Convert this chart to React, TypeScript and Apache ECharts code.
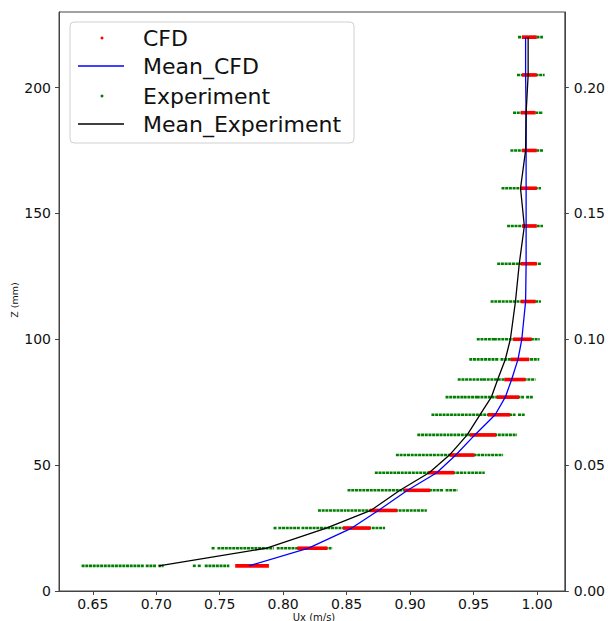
import React, { useEffect, useRef } from "react";
import * as echarts from "echarts";

// Heights (mm) of the measurement levels
const levels = [10, 17, 25, 32, 40, 47, 54, 62, 70, 77, 84, 92, 100, 115, 130, 145, 160, 175, 190, 205, 220];
// Mean CFD velocity (m/s) per level
const meanCFD = [0.773, 0.82, 0.854, 0.875, 0.898, 0.921, 0.936, 0.951, 0.967, 0.975, 0.98, 0.985, 0.988, 0.991, 0.9914, 0.9914, 0.9914, 0.9914, 0.9914, 0.991, 0.991];
// Mean experimental velocity (m/s) per level
const meanExp = [0.702, 0.787, 0.834, 0.869, 0.892, 0.915, 0.931, 0.945, 0.955, 0.964, 0.969, 0.975, 0.979, 0.983, 0.986, 0.99, 0.987, 0.991, 0.9914, 0.993, 0.993];
// Spread of CFD samples per level (min / max)
const cfdMin = [0.763, 0.812, 0.848, 0.869, 0.896, 0.915, 0.932, 0.948, 0.962, 0.969, 0.975, 0.98, 0.982, 0.988, 0.988, 0.989, 0.988, 0.989, 0.988, 0.989, 0.989];
const cfdMax = [0.788, 0.834, 0.868, 0.889, 0.915, 0.934, 0.95, 0.967, 0.978, 0.985, 0.99, 0.993, 0.995, 0.998, 0.999, 0.999, 0.999, 0.999, 0.998, 0.999, 0.999];
// Experimental sample runs: [level (mm), from (m/s), to (m/s)]
const expSegments: [number, number, number][] = [
  [10, 0.642, 0.6895], [10, 0.6925, 0.699], [10, 0.7025, 0.705], [10, 0.7296, 0.7305], [10, 0.7335, 0.7345], [10, 0.739, 0.7568],
  [17, 0.7444, 0.7452], [17, 0.749, 0.7918], [17, 0.7957, 0.838],
  [25, 0.7932, 0.794], [25, 0.797, 0.8126], [25, 0.8152, 0.8795],
  [32, 0.8282, 0.8489], [32, 0.8509, 0.9124],
  [40, 0.8515, 0.9254], [40, 0.9287, 0.9365],
  [47, 0.873, 0.9435], [47, 0.946, 0.958],
  [54, 0.8896, 0.9596], [54, 0.9617, 0.9725],
  [62, 0.9065, 0.93], [62, 0.932, 0.9835],
  [70, 0.9176, 0.9823], [70, 0.9858, 0.99],
  [77, 0.9287, 0.9417], [77, 0.943, 0.952], [77, 0.9533, 0.9889], [77, 0.9922, 0.9959],
  [84, 0.9383, 0.9565], [84, 0.9582, 0.998],
  [92, 0.9474, 0.9694], [92, 0.972, 1.001],
  [100, 0.9533, 0.9655], [100, 0.9668, 1.0013],
  [115, 0.9642, 1.0023],
  [130, 0.9694, 1.0026],
  [145, 0.9772, 1.0039],
  [160, 0.9728, 1.0023],
  [175, 0.9798, 1.0044],
  [190, 0.9819, 1.0039],
  [205, 0.985, 1.0052],
  [220, 0.9858, 1.0039],
];
const xTicks = [0.65, 0.7, 0.75, 0.8, 0.85, 0.9, 0.95, 1.0];
const yTicks = [0, 50, 100, 150, 200];
const yTicksRight = [0, 0.05, 0.1, 0.15, 0.2];
const legendNames = ["CFD", "Mean_CFD", "Experiment", "Mean_Experiment"];

const FONT = "DejaVu Sans";

export default function App() {
  const ref = useRef<HTMLDivElement>(null);
  useEffect(() => {
    document.body.style.margin = "0";
    if (!ref.current) return;
    const chart = echarts.init(ref.current, undefined, { renderer: "svg" });

    const segRender = (color: string, width: number, dash?: number[]) => (params: any, api: any) => {
      const p1 = api.coord([api.value(0), api.value(2)]);
      const p2 = api.coord([api.value(1), api.value(2)]);
      return {
        type: "line",
        shape: { x1: p1[0] - 1, y1: p1[1], x2: p2[0] + 1, y2: p2[1] },
        style: { stroke: color, lineWidth: width, lineCap: "butt", lineDash: dash },
      };
    };

    const cfdData = levels.map((z, i) => [cfdMin[i], cfdMax[i], z]);
    const expData = expSegments.map(([z, a, b]) => [a, b, z]);

    const legendY = [38, 66, 96, 124];
    const legendGraphics: any[] = [
      {
        type: "rect",
        shape: { x: 70, y: 22, width: 284, height: 121, r: 4 },
        style: { fill: "rgba(255,255,255,0.85)", stroke: "#d0d0d0", lineWidth: 1 },
        z: 100,
      },
      { type: "circle", shape: { cx: 102, cy: legendY[0], r: 1.5 }, style: { fill: "#ff0000" }, z: 101 },
      { type: "line", shape: { x1: 78, y1: legendY[1], x2: 124, y2: legendY[1] }, style: { stroke: "#0000ff", lineWidth: 1.3 }, z: 101 },
      { type: "circle", shape: { cx: 102, cy: legendY[2], r: 1.5 }, style: { fill: "#008000" }, z: 101 },
      { type: "line", shape: { x1: 78, y1: legendY[3], x2: 124, y2: legendY[3] }, style: { stroke: "#000000", lineWidth: 1.3 }, z: 101 },
      ...legendNames.map((n, i) => ({
        type: "text",
        x: 143,
        y: legendY[i],
        style: { text: n, fontSize: 22, fontFamily: FONT, fill: "#111", verticalAlign: "middle", align: "left" },
        z: 101,
      })),
      {
        type: "text",
        x: 314,
        y: 617,
        style: { text: "Ux (m/s)", fontSize: 10, fontFamily: FONT, fill: "#111", align: "center", verticalAlign: "middle" },
      },
      {
        type: "text",
        x: 14,
        y: 300,
        rotation: Math.PI / 2,
        style: { text: "Z (mm)", fontSize: 9.5, fontFamily: FONT, fill: "#111", align: "center", verticalAlign: "middle" },
      },
    ];

    chart.setOption({
      animation: false,
      backgroundColor: "#ffffff",
      grid: { left: 59, right: 39, top: 12, bottom: 30, show: true, borderColor: "#444", borderWidth: 1, backgroundColor: "transparent" },
      xAxis: {
        type: "value",
        min: 0.6234,
        max: 1.0219,
        axisLine: { show: true, lineStyle: { color: "#444" } },
        axisTick: { show: true, length: 4, customValues: xTicks, lineStyle: { color: "#444" } },
        axisLabel: {
          customValues: xTicks,
          formatter: (v: number) => v.toFixed(2),
          fontSize: 14,
          fontFamily: FONT,
          color: "#111",
          margin: 6,
        },
        splitLine: { show: false },
      },
      yAxis: [
        {
          type: "value",
          min: 0,
          max: 230,
          position: "left",
          axisLine: { show: true, lineStyle: { color: "#444" } },
          axisTick: { show: true, length: 4, customValues: yTicks, lineStyle: { color: "#444" } },
          axisLabel: { customValues: yTicks, fontSize: 14, fontFamily: FONT, color: "#111", margin: 8 },
          splitLine: { show: false },
        },
        {
          type: "value",
          min: 0,
          max: 0.23,
          position: "right",
          axisLine: { show: true, lineStyle: { color: "#444" } },
          axisTick: { show: true, length: 4, customValues: yTicksRight, lineStyle: { color: "#444" } },
          axisLabel: {
            customValues: yTicksRight,
            formatter: (v: number) => v.toFixed(2),
            fontSize: 14,
            fontFamily: FONT,
            color: "#111",
            margin: 9,
          },
          splitLine: { show: false },
        },
      ],
      series: [
        {
          name: "Experiment",
          type: "custom",
          renderItem: segRender("#008000", 2.6, [3, 0.7]),
          data: expData,
          encode: { x: [0, 1], y: 2 },
          z: 1,
        },
        {
          name: "CFD",
          type: "custom",
          renderItem: segRender("#ff0000", 3.6),
          data: cfdData,
          encode: { x: [0, 1], y: 2 },
          z: 2,
        },
        {
          name: "Mean_CFD",
          type: "line",
          data: levels.map((z, i) => [meanCFD[i], z]),
          showSymbol: false,
          symbol: "none",
          lineStyle: { color: "#0000ff", width: 1.3 },
          z: 3,
        },
        {
          name: "Mean_Experiment",
          type: "line",
          data: levels.map((z, i) => [meanExp[i], z]),
          showSymbol: false,
          symbol: "none",
          lineStyle: { color: "#000000", width: 1.3 },
          z: 4,
        },
      ],
      graphic: legendGraphics,
    });

    return () => chart.dispose();
  }, []);

  return <div ref={ref} style={{ position: "fixed", left: 0, top: 0, width: 608, height: 621 }} />;
}
